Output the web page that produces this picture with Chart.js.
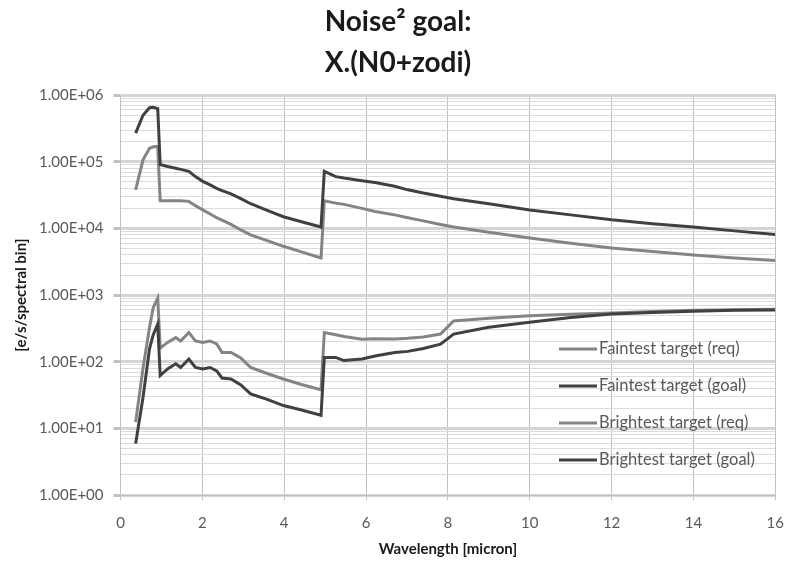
<!DOCTYPE html>
<html>
<head>
<meta charset="utf-8">
<script src="https://cdn.jsdelivr.net/npm/chart.js@4.4.1/dist/chart.umd.min.js"></script>
<style>
  html, body { margin: 0; padding: 0; background: #ffffff; }
  #wrap { position: relative; width: 798px; height: 562px; }
</style>
</head>
<body>
<div id="wrap"><canvas id="c" width="798" height="562"></canvas></div>
<script>
// ---- data ----
const titleLines = ['Noise\u00B2 goal:', 'X.(N0+zodi)'];
const xAxisTitle = 'Wavelength [micron]';
const yAxisTitle = '[e/s/spectral bin]';
const xTicks = [0, 2, 4, 6, 8, 10, 12, 14, 16];
const yDecades = [1, 10, 100, 1000, 10000, 100000, 1000000];

const seriesNames = ['Faintest target (req)', 'Faintest target (goal)', 'Brightest target (req)', 'Brightest target (goal)'];

const wavelength = [0.37, 0.55, 0.71, 0.80, 0.91, 0.97, 1.15, 1.35, 1.47, 1.67, 1.83, 2.01, 2.19, 2.35, 2.48, 2.70, 2.94, 3.18, 3.60, 3.98, 4.40, 4.90, 4.98, 5.26, 5.46, 5.90, 6.22, 6.70, 7.02, 7.40, 7.82, 8.14, 9.00, 10.0, 11.0, 12.0, 13.0, 14.0, 15.0, 16.0];

const faintestReq = [12.4, 80, 330, 650, 900, 160, 195, 230, 205, 275, 205, 195, 205, 185, 138, 138, 114, 82, 66, 55, 46, 38, 275, 254, 240, 218, 222, 220, 225, 235, 260, 410, 450, 490, 515, 540, 565, 590, 605, 615];

const faintestGoal = [5.9, 29, 158, 255, 367, 62, 78, 93, 82, 110, 82, 78, 82, 73, 57, 55, 45, 33, 27, 22, 19, 15.7, 116, 116, 104, 110, 122, 138, 143, 158, 184, 260, 330, 390, 460, 520, 550, 570, 590, 600];

const brightestReq = [38000, 107000, 160000, 168000, 170000, 26000, 26000, 26000, 26000, 25500, 22000, 19000, 16500, 14500, 13300, 11500, 9500, 8000, 6500, 5400, 4500, 3600, 26000, 24000, 23000, 20000, 18000, 16000, 14500, 13000, 11500, 10500, 8800, 7200, 6000, 5100, 4500, 4000, 3600, 3300];

const brightestGoal = [270000, 500000, 650000, 660000, 630000, 91000, 85000, 80000, 77000, 72000, 60000, 51000, 45000, 40000, 37000, 33000, 28000, 23500, 18500, 15000, 12700, 10500, 72000, 60000, 57000, 52000, 49000, 43000, 38000, 34000, 30500, 28000, 23500, 19000, 16000, 13500, 11800, 10500, 9200, 8100];

// ---- styling ----
const reqColor = '#848484';
const goalColor = '#404040';
const textColor = '#595959';
const font = "Lato, 'Open Sans', sans-serif";

function pts(ys) { return wavelength.map((x, i) => ({ x: x, y: ys[i] })); }

const seriesValues = [faintestReq, faintestGoal, brightestReq, brightestGoal];
const seriesColors = [reqColor, goalColor, reqColor, goalColor];

const datasets = seriesValues.map((ys, i) => ({
  label: seriesNames[i],
  data: pts(ys),
  borderColor: seriesColors[i],
  backgroundColor: seriesColors[i],
  borderWidth: 3,
  pointRadius: 0,
  showLine: true,
  tension: 0,
  fill: false,
  order: seriesValues.length - i
}));

function isDecade(v) {
  const l = Math.log10(v);
  return Math.abs(l - Math.round(l)) < 1e-9;
}

// legend drawn inside the plot (as in the reference)
const innerLegend = {
  id: 'innerLegend',
  afterDraw(chart) {
    const ctx = chart.ctx;
    const rows = [349, 386, 423, 460];
    ctx.save();
    ctx.font = '16.5px ' + font;
    ctx.textBaseline = 'middle';
    ctx.textAlign = 'left';
    seriesNames.forEach((name, i) => {
      const y = rows[i];
      ctx.strokeStyle = seriesColors[i];
      ctx.lineWidth = 3;
      ctx.beginPath();
      ctx.moveTo(559, y);
      ctx.lineTo(597, y);
      ctx.stroke();
      ctx.fillStyle = textColor;
      ctx.fillText(name, 599, y);
    });
    ctx.restore();
  }
};

new Chart(document.getElementById('c'), {
  type: 'scatter',
  data: { datasets: datasets },
  options: {
    responsive: false,
    animation: false,
    devicePixelRatio: 1,
    layout: { padding: { left: 8, right: 10, top: 0, bottom: 0 } },
    plugins: {
      legend: { display: false },
      tooltip: { enabled: false },
      title: {
        display: true,
        text: titleLines,
        color: '#1a1a1a',
        font: { family: font, size: 28, weight: 'bold', lineHeight: 1.45 },
        padding: { top: 2, bottom: 12 }
      }
    },
    scales: {
      x: {
        type: 'linear',
        min: 0,
        max: 16,
        afterBuildTicks: (s) => { s.ticks = xTicks.map(v => ({ value: v })); },
        afterFit: (s) => { s.height = 67; },
        ticks: {
          color: textColor,
          font: { family: font, size: 15 },
          padding: 14,
          maxRotation: 0
        },
        grid: {
          color: '#c0c0c0',
          lineWidth: 1,
          tickLength: 5,
          tickColor: '#c0c0c0',
          drawTicks: true
        },
        border: { color: '#c0c0c0', width: 1 },
        title: {
          display: true,
          text: xAxisTitle,
          color: '#1a1a1a',
          font: { family: font, size: 15, weight: 'bold' },
          padding: { top: 4, bottom: 4 }
        }
      },
      y: {
        type: 'logarithmic',
        min: 1,
        max: 1000000,
        afterBuildTicks: (s) => {
          const t = [];
          yDecades.forEach((d, k) => {
            if (k === yDecades.length - 1) { t.push({ value: d, major: true }); return; }
            for (let m = 1; m <= 9; m++) t.push({ value: d * m, major: m === 1 });
          });
          s.ticks = t;
        },
        afterFit: (s) => { s.width = 112.5; },
        ticks: {
          autoSkip: false,
          color: textColor,
          font: { family: font, size: 15 },
          padding: 10,
          callback: (v) => {
            if (!isDecade(v)) return '';
            const e = Math.round(Math.log10(v));
            return '1.00E+' + String(e).padStart(2, '0');
          }
        },
        grid: {
          color: (c) => (c.tick && isDecade(c.tick.value)) ? '#d4d4d4' : '#dcdcdc',
          lineWidth: (c) => (c.tick && isDecade(c.tick.value)) ? 3 : 1,
          tickLength: 7,
          tickColor: (c) => (c.tick && isDecade(c.tick.value)) ? '#c0c0c0' : 'rgba(0,0,0,0)'
        },
        border: { color: '#c0c0c0', width: 1 },
        title: {
          display: true,
          text: yAxisTitle,
          color: '#1a1a1a',
          font: { family: font, size: 15, weight: 'bold' },
          padding: { top: 4, bottom: 4 }
        }
      }
    }
  },
  plugins: [innerLegend]
});
</script>
</body>
</html>
